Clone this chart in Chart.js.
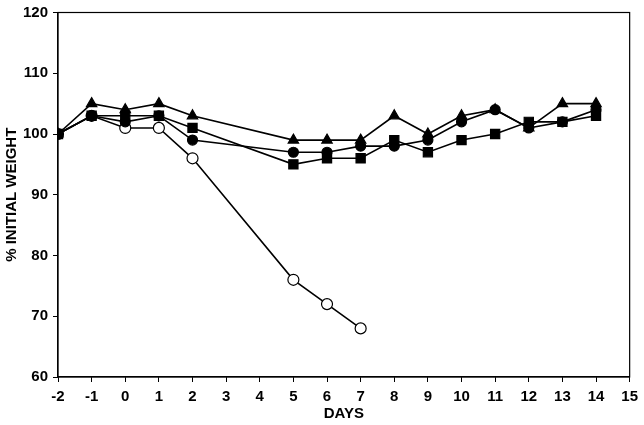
<!DOCTYPE html>
<html lang="en">
  <head>
    <meta charset="UTF-8">
    <title>% Initial Weight</title>
    <script src="https://cdn.jsdelivr.net/npm/chart.js@4.4.6/dist/chart.umd.min.js"></script>
    <style>
      html, body { margin: 0; padding: 0; background: #fff; }
      #wrap { width: 644px; height: 425px; }
    </style>
  </head>
  <body>
    <div id="wrap"><canvas id="weight-plot"></canvas></div>
    <script>
      // days sampled (no weighings on days 3 and 4)
      const days = [-2, -1, 0, 1, 2, 5, 6, 7, 8, 9, 10, 11, 12, 13, 14];
      // % of initial weight per group
      const filledCircle = [100, 103, 102, 103, 99, 97, 97, 98, 98, 99, 102, 104, 101, 102, 104];
      const filledTriangle = [100, 105, 104, 105, 103, 99, 99, 99, 103, 100, 103, 104, 101, 105, 105];
      const filledSquare = [100, 103, 103, 103, 101, 95, 96, 96, 99, 97, 99, 100, 102, 102, 103];
      const openCircle = [100, 103, 101, 101, 96, 76, 72, 68];
      const xTicks = [-2, -1, 0, 1, 2, 3, 4, 5, 6, 7, 8, 9, 10, 11, 12, 13, 14, 15];
      const yTicks = [60, 70, 80, 90, 100, 110, 120];

      const pts = (vals) => vals.map((v, i) => ({ x: days[i], y: v }));
      const font = { family: "'Liberation Sans', Arial, sans-serif", size: 15, weight: 'bold' };
      const yFont = { ...font, lineHeight: 1 };

      // box round the plot area
      const frame = {
        id: 'frame',
        beforeDatasetsDraw(chart) {
          const a = chart.chartArea, c = chart.ctx;
          c.save();
          c.strokeStyle = '#000';
          c.lineWidth = 1.2;
          c.strokeRect(a.left, a.top, a.right - a.left, a.bottom - a.top);
          c.restore();
        }
      };

      const line = (data, style, radius, fill) => ({
        data: pts(data),
        borderColor: '#000',
        borderWidth: 1.6,
        pointStyle: style,
        pointRadius: radius,
        pointBackgroundColor: fill,
        pointBorderColor: '#000',
        pointBorderWidth: 1.2,
        tension: 0
      });

      new Chart(document.getElementById('weight-plot'), {
        type: 'line',
        data: {
          datasets: [
            line(filledCircle, 'circle', 5, '#000'),
            line(filledTriangle, 'triangle', 6, '#000'),
            line(filledSquare, 'rect', 6.5, '#000'),
            line(openCircle, 'circle', 5.5, '#fff')
          ]
        },
        options: {
          responsive: true,
          maintainAspectRatio: false,
          animation: false,
          layout: { padding: { left: 3, right: 13, top: 0, bottom: 0 } },
          plugins: { legend: { display: false }, tooltip: { enabled: false } },
          scales: {
            x: {
              type: 'linear',
              min: -2,
              max: 15,
              afterBuildTicks: (s) => { s.ticks = xTicks.map(v => ({ value: v })); },
              afterFit: (s) => { s.height = 48; },
              ticks: { color: '#000', font, padding: 6, maxRotation: 0, autoSkip: false },
              grid: { drawOnChartArea: false, color: '#000', tickLength: 5 },
              border: { color: '#000', width: 1.2 },
              title: { display: true, text: 'DAYS', color: '#000', font, padding: { top: 0, bottom: 2 } }
            },
            y: {
              min: 60,
              max: 120,
              afterBuildTicks: (s) => { s.ticks = yTicks.map(v => ({ value: v })); },
              afterFit: (s) => { s.width = 55; },
              ticks: { color: '#000', font: yFont, padding: 5 },
              grid: { drawOnChartArea: false, color: '#000', tickLength: 5 },
              border: { color: '#000', width: 1.2 },
              title: { display: true, text: '% INITIAL WEIGHT', color: '#000', font, padding: 0 }
            }
          }
        },
        plugins: [frame]
      });
    </script>
  </body>
</html>
